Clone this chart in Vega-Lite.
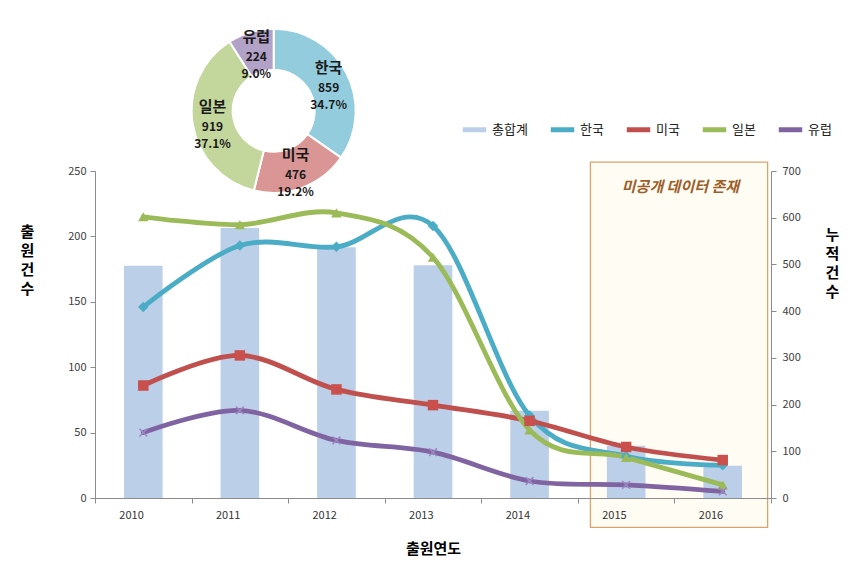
{
  "$schema": "https://vega.github.io/schema/vega-lite/v6.json",
  "autosize": {"type": "none"},
  "width": 676,
  "height": 327,
  "padding": {"left": 95, "top": 171, "right": 85, "bottom": 70},
  "background": "white",
  "config": {
    "font": "Noto Sans CJK KR",
    "view": {"stroke": null},
    "axis": {"grid": false, "domainColor": "#8c8c8c", "tickColor": "#8c8c8c", "labelColor": "#404040", "labelFontSize": 11, "titleColor": "#000000", "titleFontSize": 15, "titleFontWeight": "bold", "tickSize": 5}
  },
  "datasets": {
    "totals": [
      {"year": 2010, "total": 497}, {"year": 2011, "total": 578}, {"year": 2012, "total": 537},
      {"year": 2013, "total": 498}, {"year": 2014, "total": 187}, {"year": 2015, "total": 112}, {"year": 2016, "total": 69}
    ],
    "series": [
      {"year": 2010, "country": "한국", "count": 146}, {"year": 2011, "country": "한국", "count": 193}, {"year": 2012, "country": "한국", "count": 192}, {"year": 2013, "country": "한국", "count": 208}, {"year": 2014, "country": "한국", "count": 63}, {"year": 2015, "country": "한국", "count": 32}, {"year": 2016, "country": "한국", "count": 25},
      {"year": 2010, "country": "미국", "count": 86}, {"year": 2011, "country": "미국", "count": 109}, {"year": 2012, "country": "미국", "count": 83}, {"year": 2013, "country": "미국", "count": 71}, {"year": 2014, "country": "미국", "count": 59}, {"year": 2015, "country": "미국", "count": 39}, {"year": 2016, "country": "미국", "count": 29},
      {"year": 2010, "country": "일본", "count": 215}, {"year": 2011, "country": "일본", "count": 209}, {"year": 2012, "country": "일본", "count": 218}, {"year": 2013, "country": "일본", "count": 184}, {"year": 2014, "country": "일본", "count": 52}, {"year": 2015, "country": "일본", "count": 31}, {"year": 2016, "country": "일본", "count": 10},
      {"year": 2010, "country": "유럽", "count": 50}, {"year": 2011, "country": "유럽", "count": 67}, {"year": 2012, "country": "유럽", "count": 44}, {"year": 2013, "country": "유럽", "count": 35}, {"year": 2014, "country": "유럽", "count": 13}, {"year": 2015, "country": "유럽", "count": 10}, {"year": 2016, "country": "유럽", "count": 5}
    ],
    "pie": [
      {"country": "한국", "total": 859, "pct": "34.7%", "rank": 1},
      {"country": "미국", "total": 476, "pct": "19.2%", "rank": 2},
      {"country": "일본", "total": 919, "pct": "37.1%", "rank": 3},
      {"country": "유럽", "total": 224, "pct": "9.0%", "rank": 4}
    ]
  },
  "layer": [
    {
      "layer": [
        {
          "data": {"values": [{}]},
          "mark": {"type": "rect", "fill": "#FFFCF4", "stroke": "#D9A36C", "strokeWidth": 1.3},
          "encoding": {
            "x": {"datum": 2015, "type": "ordinal", "bandPosition": 0.13},
            "x2": {"datum": 2016, "bandPosition": 0.965},
            "y": {"datum": 719, "type": "quantitative", "scale": {"domain": [0, 700], "nice": false}},
            "y2": {"datum": -63}
          }
        },
        {
          "data": {"name": "totals"},
          "mark": {"type": "bar", "color": "#BCCFE8", "width": {"band": 0.4}},
          "encoding": {
            "x": {"field": "year", "type": "ordinal", "scale": {"paddingInner": 0, "paddingOuter": 0},
                  "axis": {"title": "출원연도", "labelAngle": 0, "tickBand": "extent", "labelPadding": 12, "titlePadding": 21, "labelColor": "#333333"}},
            "y": {"field": "total", "type": "quantitative", "scale": {"domain": [0, 700], "nice": false},
                  "axis": {"orient": "right", "values": [0, 100, 200, 300, 400, 500, 600, 700], "title": ["누", "적", "건", "수"], "titleAngle": 0, "titleX": 61, "titleY": 56, "titleAlign": "center", "titleBaseline": "top", "titleLineHeight": 19, "labelPadding": 6}}
          }
        }
      ]
    },
    {
      "layer": [
        {
          "data": {"name": "series"},
          "mark": {"type": "line", "interpolate": "cardinal", "strokeWidth": 4.8, "strokeCap": "round"},
          "encoding": {
            "x": {"field": "year", "type": "ordinal"},
            "y": {"field": "count", "type": "quantitative", "scale": {"domain": [0, 250], "nice": false, "zero": false},
                  "axis": {"values": [0, 50, 100, 150, 200, 250], "title": ["출", "원", "건", "수"], "titleAngle": 0, "titleX": -68, "titleY": 53, "titleAlign": "center", "titleBaseline": "top", "titleLineHeight": 19, "labelPadding": 4}},
            "color": {"field": "country", "type": "nominal",
                      "scale": {"domain": ["총합계", "한국", "미국", "일본", "유럽"], "range": ["#BCCFE8", "#4BACC6", "#C0504D", "#9BBB59", "#8064A2"]},
                      "legend": {"orient": "none", "legendX": 365, "legendY": -56, "direction": "horizontal", "title": null, "symbolType": "stroke", "symbolStrokeWidth": 5, "symbolSize": 550, "labelFontSize": 13, "labelColor": "#222222", "columnPadding": 12, "labelOffset": 3}},
            "order": {"field": "year"}
          }
        },
        {
          "data": {"name": "series"},
          "transform": [{"filter": "datum.country === '한국'"}],
          "mark": {"type": "point", "shape": "diamond", "filled": true, "size": 110, "color": "#4BACC6", "opacity": 1},
          "encoding": {"x": {"field": "year", "type": "ordinal"}, "y": {"field": "count", "type": "quantitative", "scale": {"domain": [0, 250], "nice": false, "zero": false}}}
        },
        {
          "data": {"name": "series"},
          "transform": [{"filter": "datum.country === '미국'"}],
          "mark": {"type": "point", "shape": "square", "filled": true, "size": 110, "color": "#C9504C", "opacity": 1},
          "encoding": {"x": {"field": "year", "type": "ordinal"}, "y": {"field": "count", "type": "quantitative", "scale": {"domain": [0, 250], "nice": false, "zero": false}}}
        },
        {
          "data": {"name": "series"},
          "transform": [{"filter": "datum.country === '일본'"}],
          "mark": {"type": "point", "shape": "triangle-up", "filled": true, "size": 110, "color": "#9BBB59", "opacity": 1},
          "encoding": {"x": {"field": "year", "type": "ordinal"}, "y": {"field": "count", "type": "quantitative", "scale": {"domain": [0, 250], "nice": false, "zero": false}}}
        },
        {
          "data": {"name": "series"},
          "transform": [{"filter": "datum.country === '유럽'"}],
          "mark": {"type": "point", "shape": "M-1,-1L1,1M-1,1L1,-1", "filled": false, "size": 60, "strokeWidth": 1.5, "color": "#9B87C2", "opacity": 1},
          "encoding": {"x": {"field": "year", "type": "ordinal"}, "y": {"field": "count", "type": "quantitative", "scale": {"domain": [0, 250], "nice": false, "zero": false}}}
        },
        {
          "data": {"values": [{"label": "미공개 데이터 존재"}]},
          "mark": {"type": "text", "fontSize": 15, "fontWeight": "bold", "fontStyle": "italic", "color": "#9C5F2A", "align": "center", "baseline": "middle", "dx": 6},
          "encoding": {
            "x": {"datum": 2016, "type": "ordinal", "bandPosition": 0},
            "y": {"datum": 238, "type": "quantitative", "scale": {"domain": [0, 250], "nice": false, "zero": false}},
            "text": {"field": "label"}
          }
        },
        {
          "data": {"name": "pie"},
          "mark": {"type": "arc", "outerRadius": 82, "innerRadius": 41, "stroke": "white", "strokeWidth": 2},
          "encoding": {
            "theta": {"field": "total", "type": "quantitative", "stack": true},
            "order": {"field": "rank"},
            "fill": {"field": "country", "type": "nominal", "scale": {"domain": ["한국", "미국", "일본", "유럽"], "range": ["#93CDDD", "#DA9694", "#C3D69B", "#B3A2C7"]}, "legend": null},
            "x": {"datum": 2011, "type": "ordinal", "bandPosition": 0.85},
            "y": {"datum": 296, "type": "quantitative", "scale": {"domain": [0, 250], "nice": false, "zero": false}}
          }
        },
        {
          "data": {"name": "pie"},
          "mark": {"type": "text", "radius": 62, "dy": -14, "fontSize": 15, "fontWeight": "bold", "color": "#1a1a1a", "align": "center", "baseline": "middle"},
          "encoding": {
            "theta": {"field": "total", "type": "quantitative", "stack": true},
            "order": {"field": "rank"},
            "text": {"field": "country"},
            "x": {"datum": 2011, "type": "ordinal", "bandPosition": 0.85},
            "y": {"datum": 296, "type": "quantitative", "scale": {"domain": [0, 250], "nice": false, "zero": false}}
          }
        },
        {
          "data": {"name": "pie"},
          "mark": {"type": "text", "radius": 62, "dy": 6, "fontSize": 12, "fontWeight": "bold", "color": "#1a1a1a", "align": "center", "baseline": "middle"},
          "encoding": {
            "theta": {"field": "total", "type": "quantitative", "stack": true},
            "order": {"field": "rank"},
            "text": {"field": "total", "type": "quantitative"},
            "x": {"datum": 2011, "type": "ordinal", "bandPosition": 0.85},
            "y": {"datum": 296, "type": "quantitative", "scale": {"domain": [0, 250], "nice": false, "zero": false}}
          }
        },
        {
          "data": {"name": "pie"},
          "mark": {"type": "text", "radius": 62, "dy": 23, "fontSize": 12, "fontWeight": "bold", "color": "#1a1a1a", "align": "center", "baseline": "middle"},
          "encoding": {
            "theta": {"field": "total", "type": "quantitative", "stack": true},
            "order": {"field": "rank"},
            "text": {"field": "pct"},
            "x": {"datum": 2011, "type": "ordinal", "bandPosition": 0.85},
            "y": {"datum": 296, "type": "quantitative", "scale": {"domain": [0, 250], "nice": false, "zero": false}}
          }
        }
      ]
    }
  ],
  "resolve": {"scale": {"y": "independent"}}
}
